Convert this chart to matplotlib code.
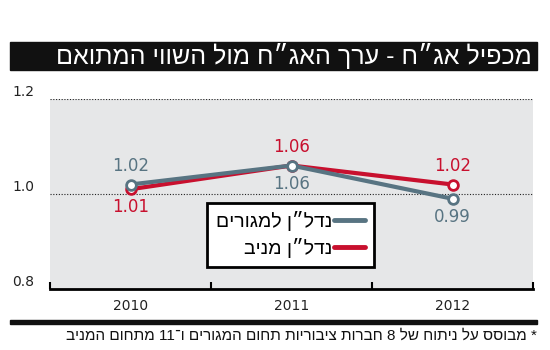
import re
import matplotlib
matplotlib.use('Agg')
import matplotlib.pyplot as plt
import matplotlib.transforms as mtransforms
from matplotlib.lines import Line2D
from matplotlib.patches import Rectangle

plt.rcParams['font.family'] = ['DejaVu Sans']
heb_font = ['Liberation Sans', 'DejaVu Sans']

# data
years = ['2010', '2011', '2012']
residential = [1.02, 1.06, 0.99]
income = [1.01, 1.06, 1.02]
res_label_side = [1, -1, -1]   # 1 = above marker, -1 = below
inc_label_side = [-1, 1, 1]
yticks = [0.8, 1.0, 1.2]

title = 'מכפיל אג״ח - ערך האג״ח מול השווי המתואם'
name_res = 'נדל״ן למגורים'
name_inc = 'נדל״ן מניב'
note = '* מבוסס על ניתוח של 8 חברות ציבוריות תחום המגורים ו־11 מתחום המניב'

grey = '#587482'
red = '#c8102e'
bg = '#e6e7e8'


def rtl(s):
    # matplotlib has no bidi: flip to visual order, keep numbers left to right
    r = s[::-1]
    return re.sub(r'[0-9.]+', lambda m: m.group(0)[::-1], r)


W, H = 550, 350
fig = plt.figure(figsize=(5.5, 3.5), dpi=100)
ax = fig.add_axes([50 / W, 1 - 289 / H, 483 / W, 190 / H])
ax.set_facecolor(bg)

x = range(len(years))
ax.plot(x, income, color=red, lw=3, marker='o', ms=7, mfc='white',
        mec=red, mew=2, zorder=3, solid_capstyle='round')
ax.plot(x, residential, color=grey, lw=3, marker='o', ms=7, mfc='white',
        mec=grey, mew=2, zorder=4, solid_capstyle='round')

for i in x:
    ax.annotate('%.2f' % residential[i], (i, residential[i]),
                xytext=(0, 13 * res_label_side[i]), textcoords='offset points',
                ha='center', va='center', color=grey, fontsize=12)
    ax.annotate('%.2f' % income[i], (i, income[i]),
                xytext=(0, 13 * inc_label_side[i]), textcoords='offset points',
                ha='center', va='center', color=red, fontsize=12)

ax.set_xlim(-0.5, 2.5)
ax.set_ylim(0.8, 1.2)
for v in yticks[1:]:
    ax.axhline(v, color='#222222', lw=0.8, ls=(0, (1, 1.5)), zorder=1)

for s in ['top', 'left', 'right']:
    ax.spines[s].set_visible(False)
ax.spines['bottom'].set_linewidth(2)
ax.set_yticks([])
ax.set_xticks([-0.5, 0.5, 1.5, 2.5])
ax.set_xticklabels([])
ax.tick_params(axis='x', which='major', direction='in', length=5, width=1.5)
ax.set_xticks(list(x), minor=True)
ax.set_xticklabels(years, minor=True, fontsize=10, color='#222222')
ax.tick_params(axis='x', which='minor', length=0, pad=7)

trans = mtransforms.blended_transform_factory(fig.transFigure, ax.transData)
for v in yticks:
    ax.text(12 / W, v, '%.1f' % v, transform=trans, ha='left', va='bottom',
            fontsize=10, color='#222222')

handles = [Line2D([], [], color=grey, lw=3.5, solid_capstyle='round'),
           Line2D([], [], color=red, lw=3.5, solid_capstyle='round')]
leg = ax.legend(handles, [rtl(name_res), rtl(name_inc)], markerfirst=False,
                loc='upper left', bbox_to_anchor=(0.325, 0.455),
                prop={'family': heb_font, 'size': 14},
                frameon=True, fancybox=False, handlelength=1.6, handletextpad=0.1,
                borderpad=0.45, labelspacing=0.35, borderaxespad=0)
leg.get_frame().set_edgecolor('black')
leg.get_frame().set_linewidth(2)
leg.get_frame().set_facecolor('white')
leg.get_frame().set_alpha(1)

# title bar
fig.patches.append(Rectangle((10 / W, 1 - 70 / H), 527 / W, 28 / H,
                             transform=fig.transFigure, color='#111111'))
fig.text(532 / W, 1 - 56 / H, rtl(title), ha='right', va='center',
         color='white', fontsize=18, family=heb_font)

# footer
fig.patches.append(Rectangle((10 / W, 1 - 324 / H), 527 / W, 4 / H,
                             transform=fig.transFigure, color='#111111'))
fig.text(537 / W, 1 - 336 / H, rtl(note), ha='right', va='center',
         color='#111111', fontsize=11, family=heb_font)

plt.savefig('out.png', dpi=100)
